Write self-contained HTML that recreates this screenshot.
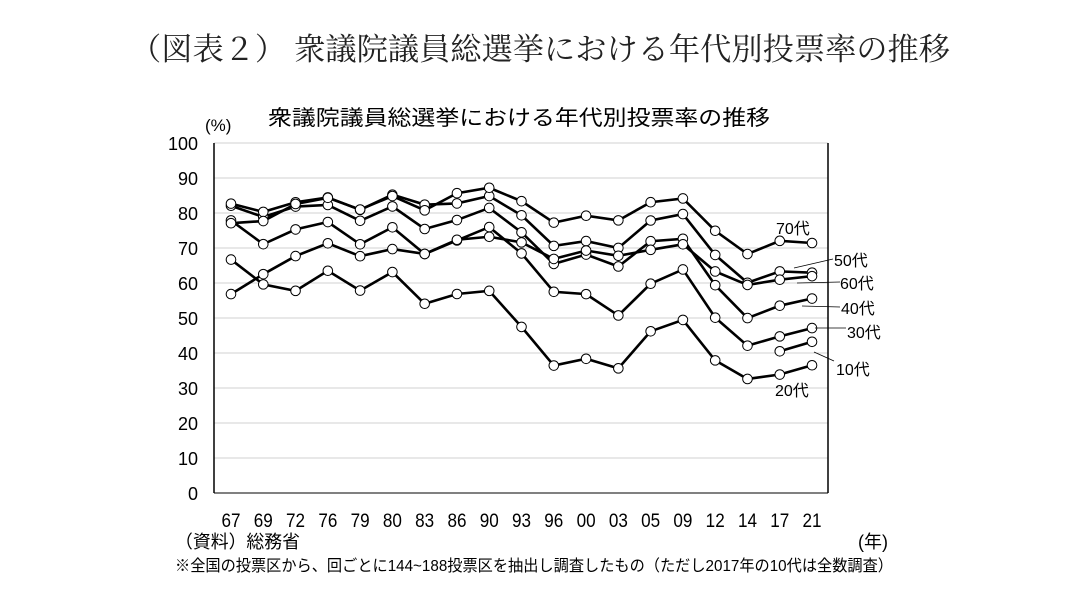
<!DOCTYPE html>
<html><head><meta charset="utf-8"><style>
body{margin:0;background:#fff;}
svg{display:block;font-family:"Liberation Sans","Noto Sans CJK JP",sans-serif;}
</style></head><body>
<svg id="s" width="1078" height="610" xmlns="http://www.w3.org/2000/svg">
<rect width="1078" height="610" fill="#fff"/>
<text x="130" y="60" font-size="31" textLength="820" lengthAdjust="spacingAndGlyphs" font-family="'Noto Serif CJK SC','Liberation Serif',serif" fill="#222">（図表２） 衆議院議員総選挙における年代別投票率の推移</text>
<text x="268" y="125" font-size="21" textLength="502" lengthAdjust="spacingAndGlyphs" fill="#000">衆議院議員総選挙における年代別投票率の推移</text>
<text x="205" y="131" font-size="17">(%)</text>
<g id="grid" stroke="#d0d0d0" stroke-width="1"></g>
<g font-size="18" text-anchor="end" id="yl">
<text x="198" y="150">100</text><text x="198" y="185">90</text><text x="198" y="220">80</text><text x="198" y="255">70</text><text x="198" y="290">60</text><text x="198" y="325">50</text><text x="198" y="360">40</text><text x="198" y="395">30</text><text x="198" y="430">20</text><text x="198" y="465">10</text><text x="198" y="500">0</text>
</g>
<line x1="214" y1="143" x2="214" y2="493" stroke="#000" stroke-width="1.5"/>
<line x1="828" y1="143" x2="828" y2="493" stroke="#000" stroke-width="1.5"/>
<line x1="214" y1="493" x2="828" y2="493" stroke="#000" stroke-width="1"/>
<g id="series"></g>
<text font-size="19" y="527" text-anchor="middle" id="xl" transform="scale(0.9,1)"></text>
<g font-size="16">
<text x="776" y="234">70代</text>
<text x="834" y="266">50代</text>
<text x="840" y="289">60代</text>
<text x="841" y="314">40代</text>
<text x="847" y="338">30代</text>
<text x="836" y="375">10代</text>
<text x="775" y="396">20代</text>
</g>
<g stroke="#000" stroke-width="0.8" fill="none">
<line x1="833" y1="259" x2="794" y2="268"/><line x1="840" y1="282" x2="797" y2="283"/><line x1="840" y1="307" x2="802" y2="306"/><line x1="846" y1="328" x2="815" y2="328"/><line x1="834" y1="361" x2="814" y2="352"/>
</g>
<text x="175" y="548" font-size="18" textLength="125" lengthAdjust="spacingAndGlyphs">（資料）総務省</text>
<text x="858" y="548" font-size="18">(年)</text>
<text x="175" y="571" font-size="16" textLength="718" lengthAdjust="spacingAndGlyphs">※全国の投票区から、回ごとに144~188投票区を抽出し調査したもの（ただし2017年の10代は全数調査）</text>
</svg>
<script>
var ns="http://www.w3.org/2000/svg";
function y(v){return 493-3.5*v;}
function x(i){return 231+i*32.28;}
var g=document.getElementById("grid");
for(var k=1;k<=10;k++){var l=document.createElementNS(ns,"line");l.setAttribute("x1",214);l.setAttribute("x2",828);l.setAttribute("y1",y(k*10));l.setAttribute("y2",y(k*10));g.appendChild(l);}
var S=[
[66.69,59.61,57.76,63.50,57.83,63.13,54.07,56.86,57.76,47.46,36.42,38.35,35.62,46.20,49.45,37.89,32.58,33.85,36.50],
[77.88,71.10,75.31,77.42,71.06,75.92,68.27,72.15,75.97,68.46,57.49,56.82,50.72,59.79,63.87,50.10,42.09,44.75,47.12],
[82.07,78.85,81.84,82.29,77.78,81.88,75.43,77.99,81.44,74.48,65.46,68.13,64.72,71.94,72.63,59.38,49.98,53.52,55.56],
[82.68,80.31,83.07,84.44,80.90,85.23,82.38,82.74,84.85,79.34,70.61,71.98,70.01,77.86,79.69,68.02,60.07,63.32,62.96],
[77.08,77.70,82.58,84.34,80.99,84.84,80.76,85.66,87.21,83.38,77.25,79.23,77.89,83.08,84.15,74.93,68.28,72.04,71.43],
[56.83,62.52,67.69,71.35,67.66,69.69,68.31,72.36,73.21,71.61,66.88,69.28,67.78,69.48,71.06,63.30,59.46,60.94,61.96]];
var ser=document.getElementById("series");
function draw(pts){var p=document.createElementNS(ns,"polyline");p.setAttribute("points",pts.map(function(q){return q[0]+","+q[1]}).join(" "));p.setAttribute("fill","none");p.setAttribute("stroke","#000");p.setAttribute("stroke-width","2.6");ser.appendChild(p);
pts.forEach(function(q){var c=document.createElementNS(ns,"circle");c.setAttribute("cx",q[0]);c.setAttribute("cy",q[1]);c.setAttribute("r",4.8);c.setAttribute("fill","#fff");c.setAttribute("stroke","#000");c.setAttribute("stroke-width","1");ser.appendChild(c);});}
S.forEach(function(s){draw(s.map(function(v,i){return [x(i),y(v)]}));});
draw([[x(17),y(40.49)],[x(18),y(43.21)]]);
var t=document.getElementById("xl");
["67","69","72","76","79","80","83","86","90","93","96","00","03","05","09","12","14","17","21"].forEach(function(s,i){var ts=document.createElementNS(ns,"tspan");ts.setAttribute("x",(231+i*32.28)/0.9);ts.textContent=s;t.appendChild(ts);});
</script>
</body></html>
